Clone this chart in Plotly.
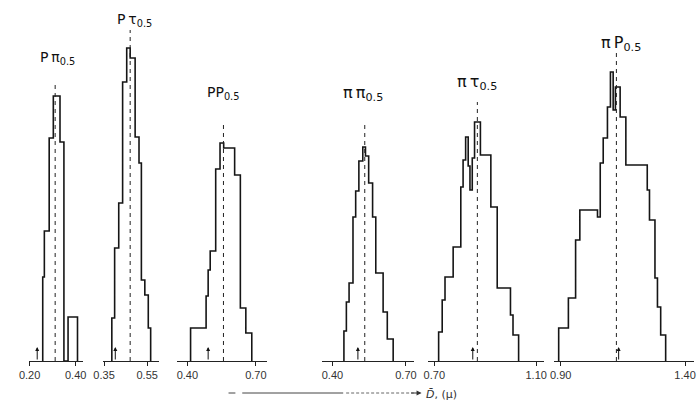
import plotly.graph_objects as go

# ---- data (bin edges in micron, heights in arbitrary frequency units) ----
labels = ["P\u2009π<sub>0.5</sub>", "P\u2009τ<sub>0.5</sub>", "PP<sub>0.5</sub>",
          "π\u2009π<sub>0.5</sub>", "π\u2009τ<sub>0.5</sub>", "π\u2009P<sub>0.5</sub>"]

edges_1 = [0.257, 0.264, 0.285, 0.303, 0.332, 0.349, 0.367, 0.408]
counts_1 = [8.4, 13.0, 22.3, 26.5, 21.9, 0.0, 4.4]

edges_2 = [0.386, 0.399, 0.418, 0.436, 0.455, 0.471, 0.494, 0.512, 0.523, 0.539, 0.555, 0.566]
counts_2 = [4.3, 11.3, 15.8, 27.9, 31.3, 30.3, 22.4, 19.8, 8.1, 6.6, 3.3]

edges_3 = [0.414, 0.482, 0.491, 0.500, 0.524, 0.543, 0.559, 0.607, 0.632, 0.656, 0.682]
counts_3 = [3.3, 6.5, 9.1, 11.0, 19.2, 21.8, 21.3, 18.6, 5.3, 2.8]

edges_4 = [0.447, 0.457, 0.468, 0.484, 0.495, 0.508, 0.524, 0.535, 0.548, 0.564, 0.577, 0.607, 0.624, 0.648]
counts_4 = [3.0, 5.9, 7.8, 14.4, 17.0, 20.0, 21.4, 20.5, 17.8, 14.4, 8.8, 4.9, 2.2]

edges_5 = [0.717, 0.731, 0.742, 0.774, 0.804, 0.813, 0.823, 0.833, 0.840, 0.849, 0.858, 0.881,
           0.922, 0.947, 0.999, 1.009, 1.031]
counts_5 = [2.9, 6.1, 8.4, 11.4, 17.4, 20.1, 22.4, 19.5, 17.1, 20.3, 23.9, 20.6, 15.4, 7.3, 4.6, 2.6]

edges_6 = [0.892, 0.931, 0.960, 0.977, 1.048, 1.059, 1.071, 1.088, 1.100, 1.111, 1.120, 1.139,
           1.162, 1.248, 1.257, 1.279, 1.289, 1.302, 1.322]
counts_6 = [3.3, 6.3, 12.1, 15.1, 14.4, 19.8, 22.3, 25.4, 28.9, 25.1, 27.4, 24.4, 19.6, 17.1,
            14.1, 8.3, 5.4, 2.6]

medians = [0.311, 0.471, 0.558, 0.532, 0.869, 1.124]   # dashed 0.5 lines
means = [0.233, 0.402, 0.491, 0.504, 0.851, 1.133]     # small arrows at the base

tick_vals = [[0.20, 0.40], [0.35, 0.55], [0.40, 0.70], [0.40, 0.70], [0.70, 1.10], [0.90, 1.40]]

all_edges = [edges_1, edges_2, edges_3, edges_4, edges_5, edges_6]
all_counts = [counts_1, counts_2, counts_3, counts_4, counts_5, counts_6]

# ---- styling / placement (pixels) ----
W, H = 699, 403
px_domains = [(19, 74), (95, 152), (170, 262), (318, 412), (427, 545), (555, 698)]
x_ranges = [(0.1957, 0.4298), (0.3455, 0.6045), (0.3528, 0.7476), (0.356, 0.732),
            (0.677, 1.131), (0.8727, 1.436)]
label_sizes = [14, 14, 14, 16, 16, 16]
label_y_px = [58, 20, 93, 93, 82, 43]
label_xshift = [2, 4, 0, -2, 0, 5]
dash_top_px = [83, 30, 123, 123, 102, 52]
base_px = 361
y_top = 36.1
px_per_unit = base_px / y_top


def outline(edges, counts):
    xs, ys = [edges[0]], [0]
    for i, c in enumerate(counts):
        xs += [edges[i], edges[i + 1]]
        ys += [c, c]
    xs.append(edges[-1])
    ys.append(0)
    return xs, ys


fig = go.Figure()
annotations = []
layout_axes = {}

for k in range(6):
    xa = "x" if k == 0 else f"x{k + 1}"
    xs, ys = outline(all_edges[k], all_counts[k])
    fig.add_trace(go.Scatter(x=xs, y=ys, mode="lines", xaxis=xa, yaxis="y",
                             line=dict(color="#151515", width=1.6), hoverinfo="skip",
                             cliponaxis=False))
    dash_top = (base_px - dash_top_px[k]) / px_per_unit
    fig.add_trace(go.Scatter(x=[medians[k], medians[k]], y=[0, dash_top], mode="lines",
                             xaxis=xa, yaxis="y",
                             line=dict(color="#222222", width=1, dash="4px,4px"),
                             hoverinfo="skip", cliponaxis=False))
    annotations.append(dict(x=medians[k], y=(base_px - label_y_px[k]) / px_per_unit,
                            xref=xa, yref="y", text=labels[k], yanchor="middle",
                            showarrow=False, xshift=label_xshift[k],
                            font=dict(family="DejaVu Sans", size=label_sizes[k], color="#111111")))
    annotations.append(dict(x=means[k], y=1.4, xref=xa, yref="y", ax=means[k], ay=0,
                            axref=xa, ayref="y", text="", showarrow=True, arrowhead=2,
                            arrowsize=0.8, arrowwidth=1, arrowcolor="#111111"))
    d0, d1 = px_domains[k]
    key = "xaxis" if k == 0 else f"xaxis{k + 1}"
    layout_axes[key] = dict(domain=[d0 / W, d1 / W], range=list(x_ranges[k]), anchor="y",
                            tickvals=tick_vals[k], tickformat=".2f", ticks="outside",
                            ticklen=4, tickwidth=1, tickcolor="#222222",
                            showline=True, linecolor="#222222", linewidth=1,
                            showgrid=False, zeroline=False,
                            tickfont=dict(family="Liberation Sans", size=11, color="#333333"))

# x title with the dashed arrow
y_arrow = (H - 393) / H
shapes = [
    dict(type="line", xref="paper", yref="paper", x0=223 / W, x1=230 / W, y0=y_arrow, y1=y_arrow,
         line=dict(color="#444444", width=1)),
    dict(type="line", xref="paper", yref="paper", x0=237 / W, x1=340 / W, y0=y_arrow, y1=y_arrow,
         line=dict(color="#444444", width=1)),
    dict(type="line", xref="paper", yref="paper", x0=343 / W, x1=412 / W, y0=y_arrow, y1=y_arrow,
         line=dict(color="#666666", width=1, dash="3px,2px")),
]
annotations.append(dict(x=420 / W, y=y_arrow, xref="paper", yref="paper", ax=-12, ay=0,
                        text="", showarrow=True, arrowhead=2,
                        arrowsize=1, arrowwidth=1, arrowcolor="#333333"))
annotations.append(dict(x=423 / W, y=(H - 394) / H, xref="paper", yref="paper",
                        text="<i>D\u0304</i>, (μ)", showarrow=False, xanchor="left",
                        yanchor="middle", borderpad=0,
                        font=dict(family="DejaVu Sans", size=11, color="#333333")))

fig.update_layout(
    width=W, height=H,
    margin=dict(l=0, r=0, t=0, b=0),
    paper_bgcolor="white", plot_bgcolor="white",
    showlegend=False,
    yaxis=dict(domain=[(H - base_px) / H, 1.0], range=[0, y_top], visible=False,
               showgrid=False, zeroline=False),
    annotations=annotations,
    shapes=shapes,
    **layout_axes,
)

fig.write_html("out.html", config={"displayModeBar": False},
               post_script="document.body.style.margin='0';")
